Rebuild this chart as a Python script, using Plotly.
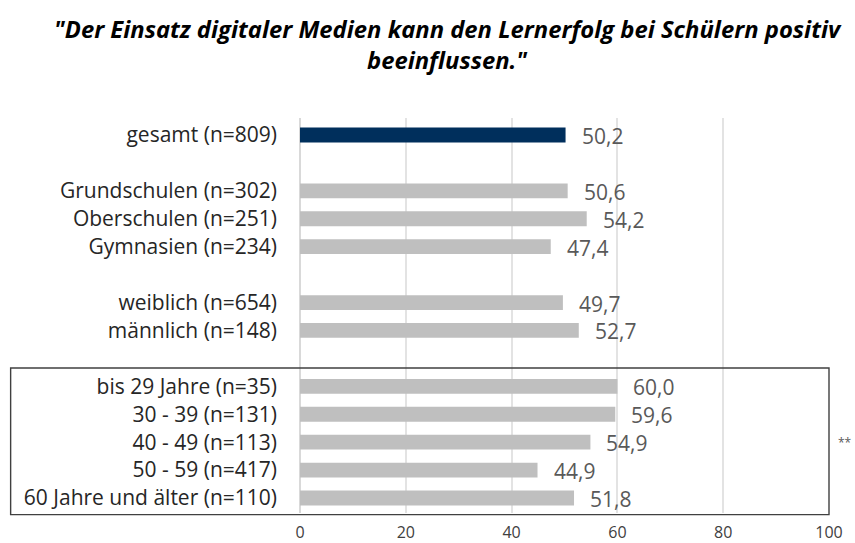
import plotly.graph_objects as go

categories = [
    "gesamt (n=809)", " ",
    "Grundschulen (n=302)", "Oberschulen (n=251)", "Gymnasien (n=234)", "  ",
    "weiblich (n=654)", "männlich (n=148)", "   ",
    "bis 29 Jahre (n=35)", "30 - 39 (n=131)", "40 - 49 (n=113)", "50 - 59 (n=417)", "60 Jahre und älter (n=110)",
]
values = [50.2, None, 50.6, 54.2, 47.4, None, 49.7, 52.7, None, 60.0, 59.6, 54.9, 44.9, 51.8]
bar_colors = ["#002F5C"] + ["#BFBFBF"] * (len(categories) - 1)
x_ticks = [0, 20, 40, 60, 80, 100]
title_text = '"Der Einsatz digitaler Medien kann den Lernerfolg bei Schülern positiv<br>beeinflussen."'
significance = "**"
significance_row = "40 - 49 (n=113)"

FONT = "Open Sans"

fig = go.Figure()
fig.add_trace(go.Bar(
    y=categories, x=values, orientation="h",
    marker=dict(color=bar_colors, line=dict(width=0)),
    width=0.53, hoverinfo="skip", showlegend=False,
))

for c, v in zip(categories, values):
    if v is None:
        continue
    fig.add_annotation(
        x=v, y=c, xref="x", yref="y", text=f"{v:.1f}".replace(".", ","),
        showarrow=False, xanchor="left", yanchor="middle", xshift=14, yshift=-1,
        font=dict(family=FONT, size=21, color="#595959"),
    )

fig.add_annotation(
    x=1.0, y=significance_row, xref="paper", yref="y", text=significance,
    showarrow=False, xanchor="left", yanchor="middle", xshift=7,
    font=dict(family=FONT, size=12, color="#595959"),
)

# title
fig.add_annotation(
    x=0.2798, y=1.2716, xref="paper", yref="paper", text=title_text,
    showarrow=False, xanchor="center", yanchor="top", align="center",
    font=dict(family=FONT, size=23.8, color="#000000", weight="bold", style="italic"),
)

# box around age group
fig.add_shape(
    type="rect", xref="paper", yref="paper",
    x0=-0.547, x1=1.0, y0=-0.004, y1=0.367,
    line=dict(color="#404040", width=1.4), fillcolor="rgba(0,0,0,0)",
)

fig.update_layout(
    width=855, height=543,
    margin=dict(l=300, r=26, t=118, b=30),
    paper_bgcolor="white", plot_bgcolor="white",
    separators=",.",
    xaxis=dict(
        range=[0, 100], tickvals=x_ticks, showgrid=True, gridcolor="#E3E3E3", gridwidth=1.5,
        zeroline=True, zerolinecolor="#D9D9D9", zerolinewidth=2,
        showline=False, ticks="", ticklabelstandoff=8, automargin=False,
        tickfont=dict(family=FONT, size=16, color="#404040"),
    ),
    yaxis=dict(
        categoryorder="array", categoryarray=categories, autorange="reversed",
        showgrid=False, ticks="", showline=False, ticklabelstandoff=22, automargin=False,
        tickfont=dict(family=FONT, size=21, color="#262626"),
    ),
    bargap=0.47,
)

fig.write_html(
    "out.html",
    config={"displayModeBar": False},
    post_script="document.body.style.margin='0px';document.body.style.overflow='hidden';",
)
